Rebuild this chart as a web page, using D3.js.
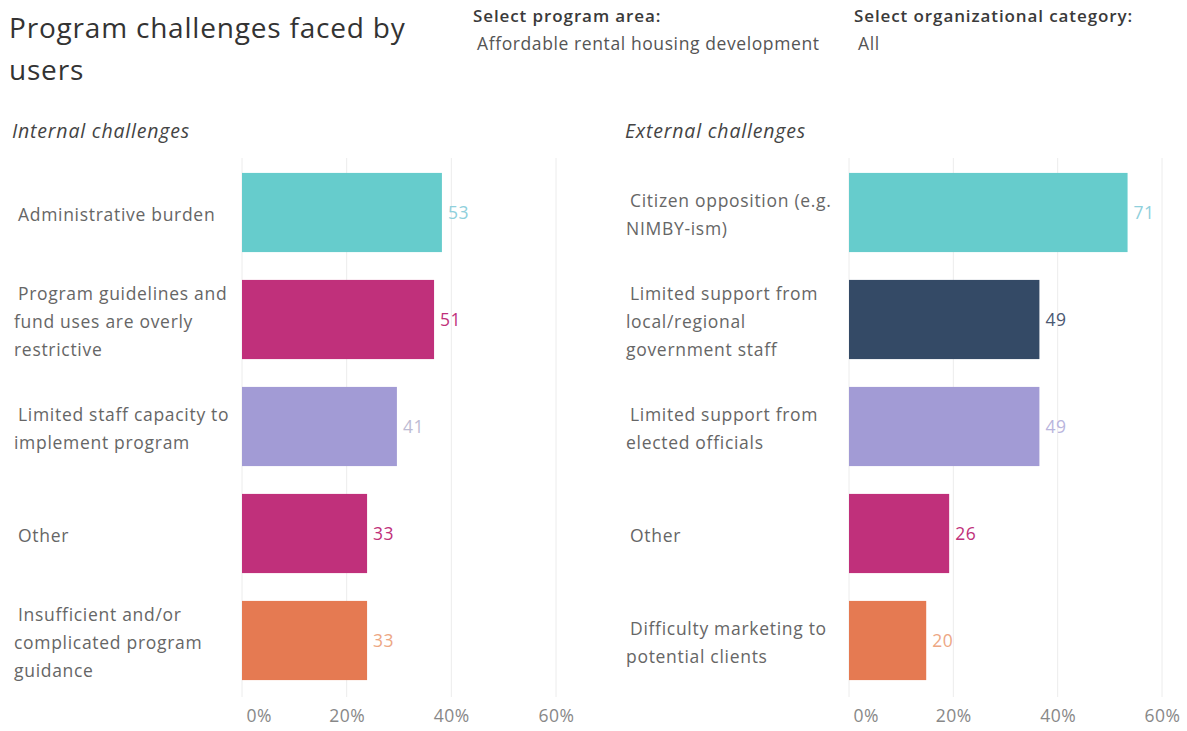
<!DOCTYPE html>
<html>
<head>
<meta charset="utf-8">
<script src="https://cdn.jsdelivr.net/npm/d3@7"></script>
<style>
  body { margin: 0; background: #fff; }
  svg { display: block; font-family: "Open Sans", "Noto Sans", sans-serif; }
</style>
</head>
<body>
<svg id="chart" width="1187" height="731"></svg>
<script>
// ---- Data ----
const titleLines = ["Program challenges faced by", "users"];
const filter1Label = "Select program area:";
const filter1Value = "Affordable rental housing development";
const filter2Label = "Select organizational category:";
const filter2Value = "All";

const internalTitle = "Internal challenges";
const internalCategories = [
  "Administrative burden",
  "Program guidelines and|fund uses are overly|restrictive",
  "Limited staff capacity to|implement program",
  "Other",
  "Insufficient and/or|complicated program|guidance"
];
const internalCounts = [53, 51, 41, 33, 33];
const internalPct = [38.2, 36.7, 29.6, 23.9, 23.9];
const internalColors = ["#66CCCC", "#C0307B", "#A29BD5", "#C0307B", "#E57A52"];
const internalLabelColors = ["#8FD0DC", "#C0307B", "#BDBBD3", "#C0307B", "#EDA784"];

const externalTitle = "External challenges";
const externalCategories = [
  "Citizen opposition (e.g.|NIMBY-ism)",
  "Limited support from|local/regional|government staff",
  "Limited support from|elected officials",
  "Other",
  "Difficulty marketing to|potential clients"
];
const externalCounts = [71, 49, 49, 26, 20];
const externalPct = [53.4, 36.5, 36.5, 19.2, 14.8];
const externalColors = ["#66CCCC", "#344A66", "#A29BD5", "#C0307B", "#E57A52"];
const externalLabelColors = ["#8FD0DC", "#4A5872", "#B9B5DD", "#C0307B", "#EDA784"];

const tickValues = [0, 20, 40, 60];
const tickLabels = ["0%", "20%", "40%", "60%"];

// ---- Drawing ----
const svg = d3.select("#chart");

// Title
svg.append("g").selectAll("text").data(titleLines).join("text")
  .attr("x", 9).attr("y", (d, i) => 38 + i * 42)
  .attr("font-size", 28).attr("letter-spacing", 0.8).attr("fill", "#333")
  .text(d => d);

// Filters
function filter(x, label, value) {
  svg.append("text").attr("x", x).attr("y", 22).attr("font-size", 17)
    .attr("font-weight", 600).attr("letter-spacing", 0.9).attr("fill", "#3a3a3a").text(label);
  svg.append("text").attr("x", x + 4).attr("y", 50).attr("font-size", 17.5)
    .attr("letter-spacing", 0.6).attr("fill", "#555").text(value);
}
filter(473, filter1Label, filter1Value);
filter(854, filter2Label, filter2Value);

function panel(opts) {
  const g = svg.append("g");
  const x = d3.scaleLinear().domain([0, 60]).range([opts.x0, opts.x1]);
  const y = d3.scaleBand().domain(d3.range(opts.categories.length))
    .range([159, 694]).paddingInner(0.26).paddingOuter(0.13);

  g.append("text").attr("x", opts.titleX).attr("y", 138)
    .attr("font-size", 19.5).attr("letter-spacing", 0.8)
    .attr("font-style", "italic").attr("fill", "#444")
    .text(opts.title);

  // gridlines
  g.append("g").selectAll("line").data(tickValues).join("line")
    .attr("x1", d => x(d)).attr("x2", d => x(d))
    .attr("y1", 158).attr("y2", 697)
    .attr("stroke", "#ececec").attr("stroke-width", 1);

  // bars
  g.append("g").selectAll("rect").data(opts.pct).join("rect")
    .attr("x", x(0)).attr("y", (d, i) => y(i))
    .attr("width", d => x(d) - x(0)).attr("height", y.bandwidth())
    .attr("fill", (d, i) => opts.colors[i]);

  // value labels
  g.append("g").selectAll("text").data(opts.counts).join("text")
    .attr("x", (d, i) => x(opts.pct[i]) + 6)
    .attr("y", (d, i) => y(i) + y.bandwidth() / 2 + 2)
    .attr("dominant-baseline", "middle")
    .attr("font-size", 17.5).attr("letter-spacing", 0.5)
    .attr("fill", (d, i) => opts.labelColors[i])
    .text(d => d);

  // category labels
  const lh = 28;
  opts.categories.forEach((c, i) => {
    const lines = c.split("|");
    const cy = y(i) + y.bandwidth() / 2 + 3;
    const t = g.append("text").attr("font-size", 17.5).attr("letter-spacing", 0.7)
      .attr("fill", "#666").attr("dominant-baseline", "middle");
    lines.forEach((ln, j) => {
      t.append("tspan")
        .attr("x", opts.labelX + (j === 0 ? 4 : 0))
        .attr("y", cy + (j - (lines.length - 1) / 2) * lh)
        .text(ln);
    });
  });

  // axis
  const axis = d3.axisBottom(x).tickValues(tickValues)
    .tickFormat((d, i) => tickLabels[i]).tickSize(0);
  const ag = g.append("g").attr("transform", "translate(0,707)").call(axis);
  ag.select(".domain").remove();
  ag.selectAll("text").attr("font-size", 17.5).attr("letter-spacing", 0.5)
    .attr("fill", "#888")
    .attr("font-family", "'Open Sans', 'Noto Sans', sans-serif");
  ag.selectAll(".tick").filter(d => d === 0).select("text")
    .attr("text-anchor", "start").attr("dx", 4);
}

panel({
  x0: 242, x1: 556, labelX: 14, titleX: 12, title: internalTitle,
  categories: internalCategories, counts: internalCounts, pct: internalPct,
  colors: internalColors, labelColors: internalLabelColors
});
panel({
  x0: 849, x1: 1162, labelX: 626, titleX: 625, title: externalTitle,
  categories: externalCategories, counts: externalCounts, pct: externalPct,
  colors: externalColors, labelColors: externalLabelColors
});
</script>
</body>
</html>
